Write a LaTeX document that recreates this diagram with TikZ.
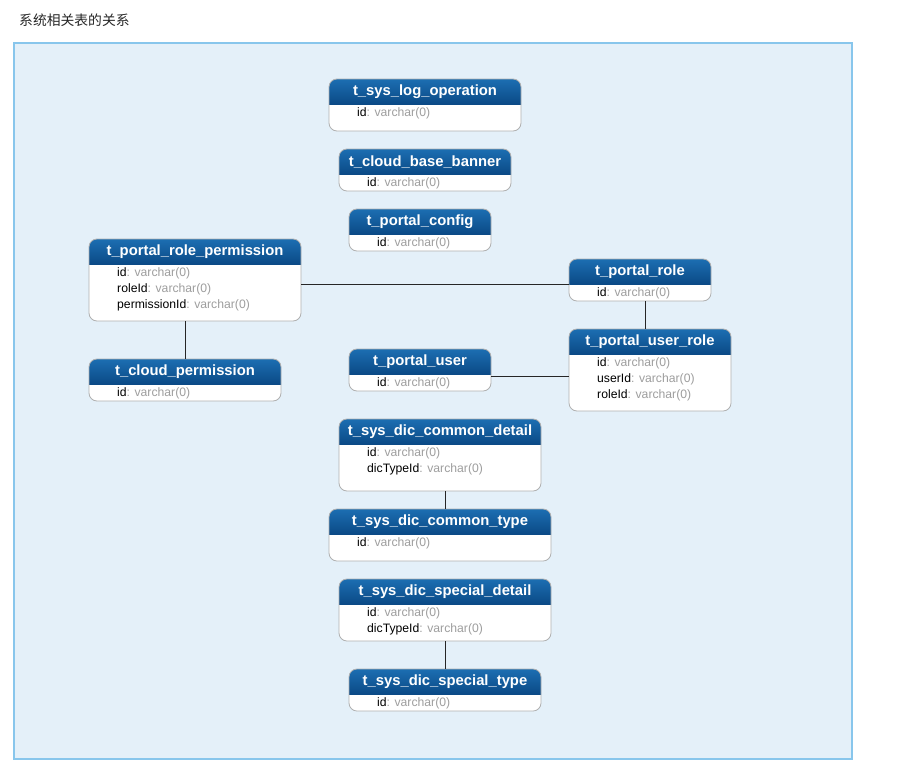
\documentclass[tikz,border=0pt]{standalone}
\usepackage{fontspec}
\setmainfont{Liberation Sans}
\newfontfamily\cjk{Noto Sans CJK SC}
\usetikzlibrary{fit}

\definecolor{framefill}{RGB}{228,240,249}
\definecolor{frameline}{RGB}{136,198,236}
\definecolor{hdtop}{RGB}{28,110,178}
\definecolor{hdbot}{RGB}{11,74,134}
\definecolor{tblline}{RGB}{176,176,176}
\definecolor{typegray}{RGB}{158,158,158}

\tikzset{
  tblbox/.style={draw=tblline, line width=0.8pt, rounded corners=8pt, inner sep=0pt},
  hdtext/.style={text=white, font=\fontsize{14.8}{17}\selectfont\bfseries, inner sep=0pt},
  fieldtext/.style={anchor=west, inner sep=0pt, font=\fontsize{12.2}{14}\selectfont},
  relline/.style={draw=black!85, line width=0.8pt},
}

% #1 node name, #2 left, #3 top, #4 right, #5 bottom, #6 title, #7 field names
\newcommand\dbtable[7]{%
  \fill[white, rounded corners=8pt] (#2,#3) rectangle (#4,#5);
  \begin{scope}
    \clip[rounded corners=8pt] (#2,#3) rectangle (#4,#5);
    \shade[top color=hdtop, bottom color=hdbot] (#2,#3) rectangle (#4,#3+25);
  \end{scope}
  \node[tblbox, fit={(#2,#3) (#4,#5)}] (#1) {};
  \node[hdtext] (#1-title) at ({(#2+#4)/2},#3+13) {#6};
  \foreach \f [count=\i] in {#7}
    \node[fieldtext] (#1-f\i) at (#2+28,#3+18.5+16*\i) {\f{\color{typegray}: varchar(0)}};
}

\begin{document}
\begin{tikzpicture}[x=1pt,y=-1pt]
  \useasboundingbox (0,0) rectangle (923,774);
  \fill[white] (0,0) rectangle (923,774);

  % caption
  \node[anchor=west, inner sep=0pt, font=\cjk\fontsize{13.8}{16}\selectfont, text=black!85] (caption) at (19,20) {系统相关表的关系};

  % frame
  \draw[fill=framefill, draw=frameline, line width=1.8pt] (14,43) rectangle (852,759);

  % tables
  \dbtable{logop}{329}{79}{521}{131}{t\_sys\_log\_operation}{id}
  \dbtable{banner}{339}{149}{511}{191}{t\_cloud\_base\_banner}{id}
  \dbtable{config}{349}{209}{491}{251}{t\_portal\_config}{id}
  \dbtable{roleperm}{89}{239}{301}{321}{t\_portal\_role\_permission}{id,roleId,permissionId}
  \dbtable{role}{569}{259}{711}{301}{t\_portal\_role}{id}
  \dbtable{perm}{89}{359}{281}{401}{t\_cloud\_permission}{id}
  \dbtable{user}{349}{349}{491}{391}{t\_portal\_user}{id}
  \dbtable{userrole}{569}{329}{731}{411}{t\_portal\_user\_role}{id,userId,roleId}
  \dbtable{cdetail}{339}{419}{541}{491}{t\_sys\_dic\_common\_detail}{id,dicTypeId}
  \dbtable{ctype}{329}{509}{551}{561}{t\_sys\_dic\_common\_type}{id}
  \dbtable{sdetail}{339}{579}{551}{641}{t\_sys\_dic\_special\_detail}{id,dicTypeId}
  \dbtable{stype}{349}{669}{541}{711}{t\_sys\_dic\_special\_type}{id}

  % relations
  \coordinate (rp) at ([yshift=-4pt]roleperm.east);
  \draw[relline] (rp) -- (rp -| role.west);
  \draw[relline] (perm.north) -- (perm.north |- roleperm.south);
  \coordinate (rr) at ([xshift=5pt]role.south);
  \draw[relline] (rr) -- (rr |- userrole.north);
  \coordinate (uu) at ([yshift=-6pt]user.east);
  \draw[relline] (uu) -- (uu -| userrole.west);
  \coordinate (cc) at ([xshift=5pt]cdetail.south);
  \draw[relline] (cc) -- (cc |- ctype.north);
  \draw[relline] (sdetail.south) -- (stype.north);
\end{tikzpicture}
\end{document}
